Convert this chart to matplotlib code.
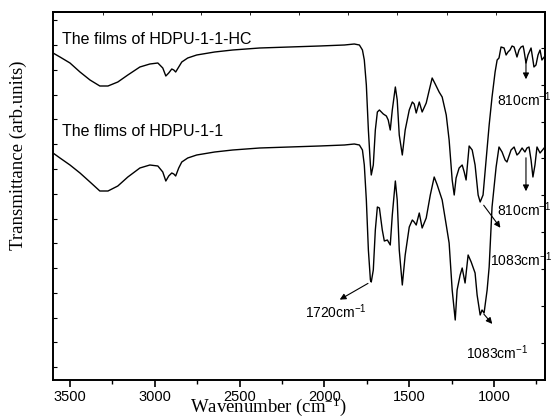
import matplotlib
matplotlib.use("Agg")
import matplotlib.pyplot as plt
import numpy as np

plt.rcParams['font.family'] = ['Liberation Sans', 'DejaVu Sans']
plt.rcParams['mathtext.default'] = 'regular'

# FTIR spectra, wavenumber (cm-1) and transmittance (arb. units)
wn_hc = [3600, 3559, 3500, 3441, 3382, 3324, 3276, 3218, 3159, 3088, 3029, 2982,
         2953, 2935, 2918, 2900, 2888, 2877, 2859, 2841, 2806, 2753, 2647, 2541,
         2382, 2206, 2029, 1882, 1824, 1794, 1776, 1765, 1753, 1741, 1729, 1724,
         1712, 1700, 1688, 1676, 1653, 1635, 1624, 1612, 1600, 1582, 1571, 1559,
         1541, 1524, 1500, 1482, 1471, 1459, 1441, 1424, 1400, 1382, 1365, 1347,
         1324, 1306, 1282, 1265, 1247, 1235, 1224, 1206, 1188, 1176, 1165, 1147,
         1129, 1112, 1094, 1082, 1065, 1047, 1029, 1012, 994, 982, 971, 959,
         941, 929, 918, 906, 894, 882, 865, 853, 841, 829, 824, 812,
         800, 782, 771, 765, 753, 741, 729, 718, 700]
tr_hc = [327, 323, 317, 308, 300, 294, 294, 298, 305, 313, 316, 317,
         312, 304, 307, 311, 310, 308, 313, 318, 322, 325, 328, 330,
         332, 333, 334, 335, 336, 335, 330, 320, 295, 250, 215, 205,
         215, 250, 268, 270, 266, 264, 260, 250, 270, 293, 280, 245,
         225, 250, 270, 278, 276, 267, 278, 268, 277, 290, 302, 296,
         288, 283, 265, 240, 200, 185, 202, 212, 215, 208, 200, 234,
         230, 215, 185, 178, 185, 220, 255, 283, 308, 320, 322, 333,
         332, 325, 328, 330, 334, 333, 323, 330, 333, 334, 330, 317,
         325, 332, 320, 313, 315, 325, 330, 320, 324]

wn_pu = [3600, 3559, 3500, 3441, 3382, 3324, 3276, 3218, 3159, 3088, 3029, 2982,
         2953, 2935, 2918, 2900, 2888, 2877, 2859, 2841, 2806, 2753, 2647, 2541,
         2382, 2206, 2029, 1882, 1824, 1794, 1776, 1765, 1753, 1741, 1729, 1724,
         1712, 1700, 1688, 1676, 1659, 1647, 1629, 1612, 1600, 1582, 1571, 1559,
         1541, 1524, 1500, 1482, 1471, 1459, 1441, 1424, 1400, 1376, 1353, 1335,
         1306, 1282, 1265, 1247, 1229, 1218, 1200, 1188, 1171, 1153, 1135, 1112,
         1100, 1082, 1071, 1059, 1041, 1029, 1012, 988, 971, 953, 935, 924,
         900, 882, 865, 853, 835, 818, 806, 794, 782, 771, 759, 747,
         729, 700]
tr_pu = [227, 222, 215, 207, 198, 189, 189, 194, 203, 212, 215, 214,
         208, 199, 204, 207, 206, 204, 212, 218, 222, 225, 228, 230,
         232, 233, 234, 235, 236, 235, 230, 215, 180, 130, 100, 98,
         110, 150, 173, 172, 150, 139, 140, 135, 165, 199, 180, 130,
         95, 125, 153, 160, 158, 155, 167, 152, 162, 185, 203, 195,
         180, 155, 137, 90, 60, 90, 105, 112, 97, 125, 118, 107,
         85, 65, 70, 67, 90, 113, 173, 213, 233, 228, 220, 218,
         230, 233, 225, 227, 232, 228, 232, 233, 220, 203, 215, 233,
         227, 233]

bottom_ticks = [3500, 3000, 2500, 2000, 1500, 1000]

fig = plt.figure(figsize=(5.54, 4.18), dpi=100)
ax = fig.add_axes([0.0957, 0.0909, 0.888, 0.8804])

ax.plot(wn_hc, tr_hc, color='black', lw=1.0)
ax.plot(wn_pu, tr_pu, color='black', lw=1.0)

ax.set_xlim(3600, 700)
ax.set_ylim(0, 368)

ax.set_xticks(bottom_ticks)
ax.set_xticks([3250, 2750, 2250, 1750, 1250, 750], minor=True)
ax.set_yticks(np.arange(13, 368, 24.75))
ax.set_yticklabels([])
ax.tick_params(axis='x', which='major', direction='out', length=5, width=1.2,
               labelsize=10.5, pad=2)
ax.tick_params(axis='x', which='minor', direction='out', length=3, width=1.0)
ax.tick_params(axis='y', direction='in', length=3, width=0.8)
for sp in ax.spines.values():
    sp.set_linewidth(1.4)

top = ax.secondary_xaxis('top')
top.set_xticks(np.arange(3306, 700, -289.4))
top.tick_params(direction='in', length=2, width=0.6, labeltop=False)
top.spines['top'].set_linewidth(1.4)

right = ax.secondary_yaxis('right')
right.set_yticks(np.arange(37, 340, 36.9))
right.tick_params(direction='in', length=3, width=0.8, labelright=False)
right.spines['right'].set_linewidth(1.4)

ax.set_xlabel('Wavenumber (cm$^{-1}$)', family='Liberation Serif', fontsize=13.5)
ax.xaxis.set_label_coords(0.437, -0.043)
ax.set_ylabel('Transmittance (arb.units)', family='Liberation Serif', fontsize=13.5)
ax.yaxis.set_label_coords(-0.053, 0.61)

ax.text(3547, 340, 'The films of HDPU-1-1-HC', fontsize=11.5, va='center')
ax.text(3547, 248, 'The flims of HDPU-1-1', fontsize=11.5, va='center')

arrow = dict(arrowstyle='-|>', color='black', lw=0.8, mutation_scale=9)
# (tail, head, label position, label)
notes = [((812, 323), (812, 298), (824, 280), '810cm$^{-1}$'),
         ((812, 225), (812, 186), (824, 170), '810cm$^{-1}$'),
         ((1071, 177), (953, 150), (841, 120), '1083cm$^{-1}$'),
         ((1729, 98), (1924, 79), (1935, 68), '1720cm$^{-1}$'),
         ((1071, 68), (1000, 54), (982, 27), '1083cm$^{-1}$')]
for tail, head, pos, label in notes:
    ax.annotate('', xy=head, xytext=tail, arrowprops=arrow)
    ax.text(pos[0], pos[1], label, fontsize=10, ha='center', va='center')

fig.savefig('out.png', dpi=100)
